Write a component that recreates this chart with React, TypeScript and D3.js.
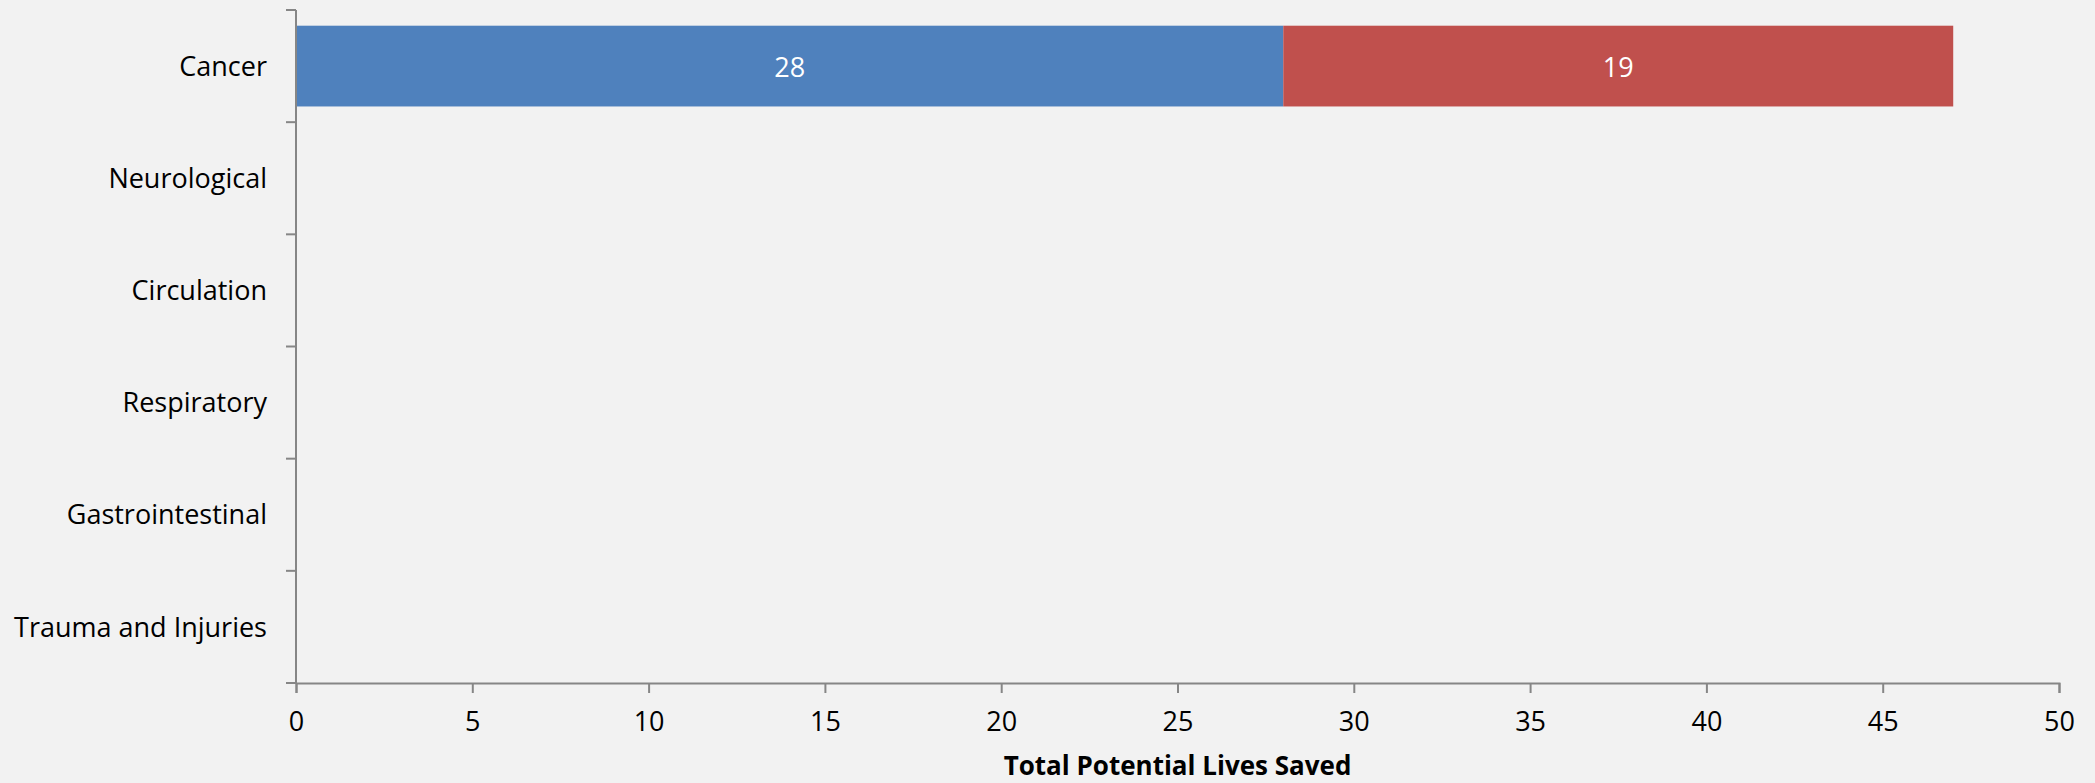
import React, { useRef, useEffect } from 'react';
import * as d3 from 'd3';

// --- DATA ---
const categories = ['Cancer', 'Neurological', 'Circulation', 'Respiratory', 'Gastrointestinal', 'Trauma and Injuries'];
const seriesA = [28, 0, 0, 0, 0, 0];
const seriesB = [19, 0, 0, 0, 0, 0];
const xTicks = [0, 5, 10, 15, 20, 25, 30, 35, 40, 45, 50];
const xTitle = 'Total Potential Lives Saved';

const W = 2095;
const H = 783;
const FONT = '"Open Sans", "Noto Sans", sans-serif';

export default function App() {
  const svgRef = useRef<SVGSVGElement>(null);

  useEffect(() => {
    document.body.style.margin = '0';
    if (!svgRef.current) return;

    const margin = { top: 10, right: 36, bottom: 100, left: 296 };
    const width = W - margin.left - margin.right;
    const height = H - margin.top - margin.bottom;

    const svg = d3.select(svgRef.current);
    svg.selectAll('*').remove();

    svg.append('rect').attr('width', W).attr('height', H).attr('fill', '#f2f2f2');

    const chart = svg.append('g').attr('transform', `translate(${margin.left},${margin.top})`);

    const xScale = d3.scaleLinear().domain([0, 50]).range([0, width]);
    const yScale = d3.scaleBand().domain(categories).range([0, height]).paddingInner(0.28).paddingOuter(0.14);
    const step = yScale.step();

    const axisColor = '#868686';

    // stacked bars
    const stackData = categories.map((c, i) => ({ cat: c, a: seriesA[i], b: seriesB[i] }));
    const stack = d3.stack<any>().keys(['a', 'b'])(stackData);
    const colors = ['#4f81bd', '#c0504d'];

    stack.forEach((layer, li) => {
      const g = chart.append('g');
      layer.forEach((d: any) => {
        const w = xScale(d[1]) - xScale(d[0]);
        if (w <= 0) return;
        const y = yScale(d.data.cat) || 0;
        g.append('rect')
          .attr('x', xScale(d[0]))
          .attr('y', y)
          .attr('width', w)
          .attr('height', yScale.bandwidth())
          .attr('fill', colors[li]);
        g.append('text')
          .attr('x', (xScale(d[0]) + xScale(d[1])) / 2)
          .attr('y', y + yScale.bandwidth() / 2)
          .attr('dy', '0.4em')
          .attr('text-anchor', 'middle')
          .attr('fill', '#ffffff')
          .style('font-family', FONT)
          .style('font-size', '27px')
          .text(d[1] - d[0]);
      });
    });

    // Y axis line + ticks at band boundaries
    chart.append('line')
      .attr('x1', 0).attr('x2', 0).attr('y1', 0).attr('y2', height)
      .attr('stroke', axisColor).attr('stroke-width', 2);
    d3.range(categories.length + 1).forEach(i => {
      chart.append('line')
        .attr('x1', -10).attr('x2', 0)
        .attr('y1', i * step).attr('y2', i * step)
        .attr('stroke', axisColor).attr('stroke-width', 2);
    });

    // Category labels
    categories.forEach(c => {
      chart.append('text')
        .attr('x', -29)
        .attr('y', (yScale(c) || 0) + yScale.bandwidth() / 2)
        .attr('dy', '0.36em')
        .attr('text-anchor', 'end')
        .attr('fill', '#000')
        .style('font-family', FONT)
        .style('font-size', '27px')
        .text(c);
    });

    // X axis
    const xAxis = chart.append('g')
      .attr('transform', `translate(0,${height})`)
      .call(d3.axisBottom(xScale).tickValues(xTicks).tickSize(10).tickSizeOuter(10).tickPadding(19));
    xAxis.select('.domain').attr('stroke', axisColor).attr('stroke-width', 2);
    xAxis.selectAll('.tick line').attr('stroke', axisColor).attr('stroke-width', 2);
    xAxis.selectAll('text')
      .attr('fill', '#000')
      .style('font-family', FONT)
      .style('font-size', '27px');

    // X axis title
    chart.append('text')
      .attr('x', width / 2)
      .attr('y', height + 92)
      .attr('text-anchor', 'middle')
      .attr('fill', '#000')
      .style('font-family', FONT)
      .style('font-weight', 'bold')
      .style('font-size', '26px')
      .text(xTitle);
  }, []);

  return (
    <div style={{ width: W, height: H }}>
      <svg ref={svgRef} width={W} height={H} style={{ display: 'block' }}></svg>
    </div>
  );
}
